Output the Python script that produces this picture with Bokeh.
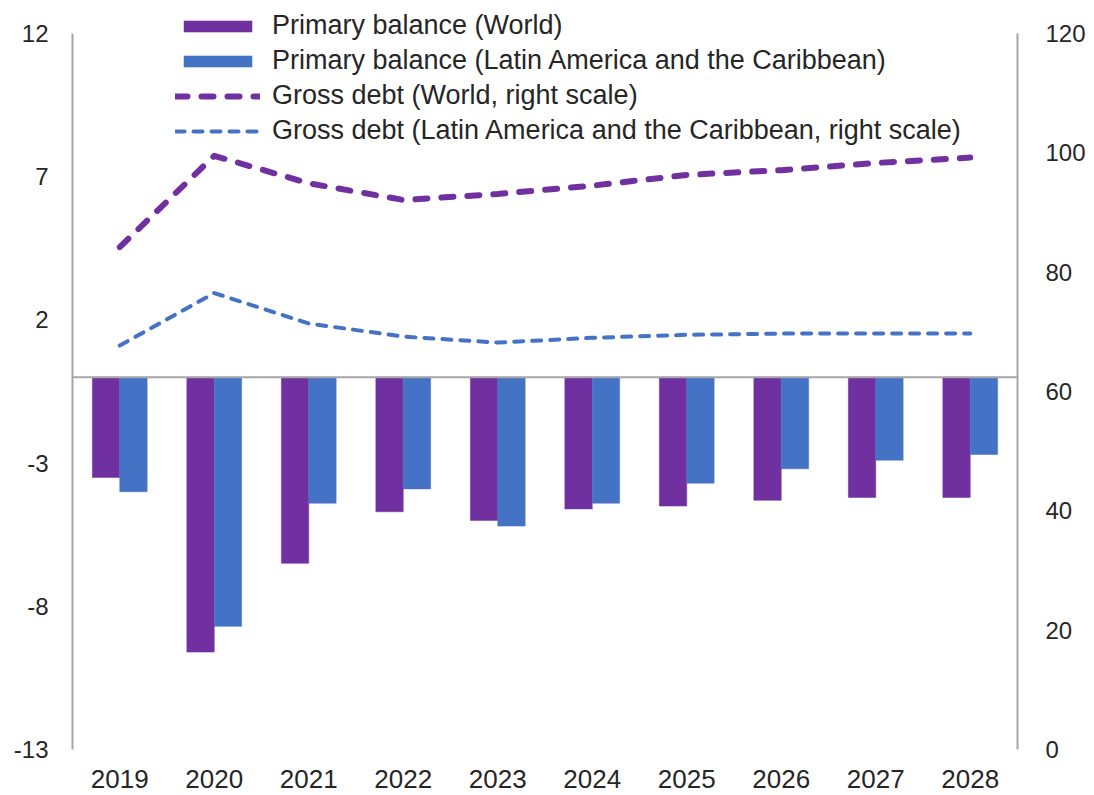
from bokeh.plotting import figure
from bokeh.models import (Range1d, LinearAxis, FixedTicker, Span, Legend, LegendItem,
                          FactorRange, ColumnDataSource)
from bokeh.transform import dodge
from bokeh.embed import file_html
from bokeh.resources import INLINE

years = ["2019", "2020", "2021", "2022", "2023", "2024", "2025", "2026", "2027", "2028"]
pb_world = [-3.5, -9.6, -6.5, -4.7, -5.0, -4.6, -4.5, -4.3, -4.2, -4.2]
pb_lac = [-4.0, -8.7, -4.4, -3.9, -5.2, -4.4, -3.7, -3.2, -2.9, -2.7]
debt_world = [84.2, 99.5, 94.9, 92.1, 93.1, 94.5, 96.3, 97.1, 98.3, 99.2]
debt_lac = [67.7, 76.5, 71.4, 69.2, 68.2, 69.0, 69.5, 69.7, 69.7, 69.7]

left_ticks = [-13, -8, -3, 2, 7, 12]
right_ticks = [0, 20, 40, 60, 80, 100, 120]

names = ["Primary balance (World)",
         "Primary balance (Latin America and the Caribbean)",
         "Gross debt (World, right scale)",
         "Gross debt (Latin America and the Caribbean, right scale)"]

PURPLE = "#7030A0"
BLUE = "#4472C4"
GREY = "#A6A6A6"
TXT = "#262626"
FONT = "Liberation Sans"

# frame extends a little above the axes' top so the legend (which overlaps it) is not clipped
FRAME_H = 744
AX_H = 716
left_top = -13 + 25 * FRAME_H / AX_H
right_top = 120 * FRAME_H / AX_H

src = ColumnDataSource(dict(year=years, pbw=pb_world, pbl=pb_lac, dw=debt_world, dl=debt_lac))

p = figure(x_range=FactorRange(factors=years, range_padding=0),
           y_range=Range1d(-13, left_top),
           frame_width=945, frame_height=FRAME_H,
           min_border_left=72, min_border_right=71, min_border_top=5, min_border_bottom=44,
           output_backend="svg", toolbar_location=None)
p.extra_y_ranges = {"debt": Range1d(0, right_top)}

p.outline_line_color = None
p.xgrid.grid_line_color = None
p.ygrid.grid_line_color = None
p.background_fill_color = "white"

r1 = p.vbar(x=dodge("year", -0.145, range=p.x_range), top="pbw", bottom=0, width=0.29,
            source=src, fill_color=PURPLE, line_color=PURPLE, line_width=0.5)
r2 = p.vbar(x=dodge("year", 0.145, range=p.x_range), top="pbl", bottom=0, width=0.29,
            source=src, fill_color=BLUE, line_color=BLUE, line_width=0.5)

p.add_layout(Span(location=0, dimension="width", line_color=GREY, line_width=2))

r3 = p.line(x="year", y="dw", source=src, y_range_name="debt", line_color=PURPLE,
            line_width=6, line_dash="12 14", line_cap="round", line_join="round")
r4 = p.line(x="year", y="dl", source=src, y_range_name="debt", line_color=BLUE,
            line_width=4, line_dash="9 9", line_cap="round", line_join="round")

# left axis
ya = p.yaxis[0]
ya.ticker = FixedTicker(ticks=left_ticks)
ya.bounds = (-13, 12)
ya.major_label_overrides = {t: str(t) for t in left_ticks}
ya.axis_line_color = GREY
ya.axis_line_width = 2
ya.major_tick_line_color = None
ya.minor_tick_line_color = None
ya.major_label_text_font = FONT
ya.major_label_text_font_size = "24px"
ya.major_label_text_color = TXT
ya.major_label_standoff = 18

ra = LinearAxis(y_range_name="debt", ticker=FixedTicker(ticks=right_ticks), bounds=(0, 120))
ra.axis_line_color = GREY
ra.axis_line_width = 2
ra.major_tick_line_color = None
ra.minor_tick_line_color = None
ra.major_label_text_font = FONT
ra.major_label_text_font_size = "24px"
ra.major_label_text_color = TXT
ra.major_label_standoff = 22
p.add_layout(ra, "right")

xa = p.xaxis[0]
xa.axis_line_color = None
xa.major_tick_line_color = None
xa.minor_tick_line_color = None
xa.major_label_text_font = FONT
xa.major_label_text_font_size = "26px"
xa.major_label_text_color = TXT
xa.major_label_standoff = 14

legend = Legend(items=[LegendItem(label=names[0], renderers=[r1]),
                       LegendItem(label=names[1], renderers=[r2]),
                       LegendItem(label=names[2], renderers=[r3]),
                       LegendItem(label=names[3], renderers=[r4])],
                location=(103, 601), orientation="vertical")
legend.background_fill_alpha = 0
legend.border_line_color = None
legend.padding = 0
legend.margin = 0
legend.spacing = 0
legend.glyph_width = 85
legend.glyph_height = 14
legend.label_standoff = 12
legend.label_height = 35
legend.label_text_font = FONT
legend.label_text_font_size = "27px"
legend.label_text_color = TXT
p.add_layout(legend)

open("out.html", "w").write(file_html(p, INLINE))
